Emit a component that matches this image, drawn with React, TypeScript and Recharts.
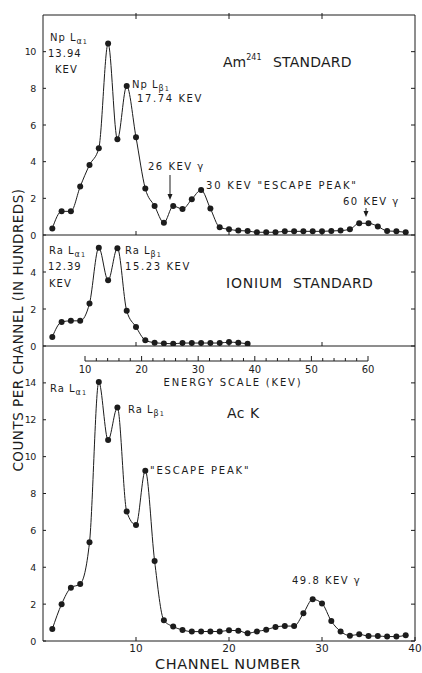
import React from 'react';
import { LineChart, Line, XAxis, YAxis } from 'recharts';

const INK = '#1c1c1c';
const FONT = "'DejaVu Sans', 'Liberation Sans', sans-serif";

// ---------- data ----------
const channels = [1, 2, 3, 4, 5, 6, 7, 8, 9, 10, 11, 12, 13, 14, 15, 16, 17, 18, 19, 20, 21, 22, 23, 24, 25, 26, 27, 28, 29, 30, 31, 32, 33, 34, 35, 36, 37, 38, 39];
const am241Counts = [0.36, 1.29, 1.29, 2.64, 3.82, 4.73, 10.45, 5.22, 8.13, 5.33, 2.53, 1.58, 0.67, 1.58, 1.42, 1.95, 2.45, 1.44, 0.42, 0.31, 0.24, 0.22, 0.15, 0.15, 0.15, 0.2, 0.2, 0.2, 0.2, 0.2, 0.22, 0.24, 0.31, 0.64, 0.64, 0.47, 0.22, 0.2, 0.15];
const ioniumChannels = [1, 2, 3, 4, 5, 6, 7, 8, 9, 10, 11, 12, 13, 14, 15, 16, 17, 18, 19, 20, 21, 22];
const ioniumCounts = [0.49, 1.3, 1.36, 1.36, 2.3, 5.31, 3.55, 5.29, 1.9, 1.03, 0.31, 0.18, 0.14, 0.12, 0.16, 0.16, 0.16, 0.16, 0.16, 0.21, 0.18, 0.12];
const acKCounts = [0.65, 2.0, 2.89, 3.09, 5.35, 14.05, 10.9, 12.66, 7.02, 6.29, 9.24, 4.34, 1.12, 0.78, 0.6, 0.51, 0.51, 0.52, 0.51, 0.58, 0.56, 0.42, 0.52, 0.61, 0.76, 0.81, 0.81, 1.5, 2.26, 2.04, 1.08, 0.52, 0.29, 0.36, 0.27, 0.27, 0.24, 0.24, 0.31];

const channelTicks = [10, 20, 30, 40];
const innerChannelTicks = [10, 20, 30];
const am241Ticks = [0, 2, 4, 6, 8, 10];
const ioniumTicks = [0, 2, 4];
const acKTicks = [0, 2, 4, 6, 8, 10, 12, 14];
const energyTicks = [10, 12, 14, 16, 18, 20, 22, 24, 26, 28, 30, 32, 34, 36, 38, 40, 42, 44, 46, 48, 50, 52, 54, 56, 58, 60];

const am241Data = channels.map((ch, i) => ({ ch, v: am241Counts[i] }));
const ioniumData = ioniumChannels.map((ch, i) => ({ ch, v: ioniumCounts[i] }));
const acKData = channels.map((ch, i) => ({ ch, v: acKCounts[i] }));
const energyData = energyTicks.map((e) => ({ e }));

// ---------- tick renderers ----------
const leftTick = (p: any) => (
  <g>
    <line x1={p.x} x2={p.x + 3} y1={p.y} y2={p.y} stroke={INK} strokeWidth={1} />
    <text
      x={p.x - 7}
      y={p.y + 3.5}
      textAnchor="end"
      fontSize={9.5}
      letterSpacing={-0.4}
      fontFamily={FONT}
      fill={INK}
    >
      {p.payload.value}
    </text>
  </g>
);
const rightTick = (p: any) => (
  <line x1={p.x} x2={p.x - 4} y1={p.y} y2={p.y} stroke={INK} strokeWidth={1} />
);
const innerBottomTick = (p: any) => (
  <line x1={p.x} x2={p.x} y1={p.y} y2={p.y - 4} stroke={INK} strokeWidth={1} />
);
const topTick = (p: any) => (
  <line x1={p.x} x2={p.x} y1={p.y - 2} y2={p.y + 4} stroke={INK} strokeWidth={1} />
);
const channelTick = (p: any) => (
  <g>
    <line x1={p.x} x2={p.x} y1={p.y} y2={p.y - 4} stroke={INK} strokeWidth={1} />
    <text x={p.x} y={p.y + 11} textAnchor="middle" fontSize={10.5} fontFamily={FONT} fill={INK}>
      {p.payload.value}
    </text>
  </g>
);
const energyTick = (p: any) => {
  const major = p.payload.value % 10 === 0;
  return (
    <g>
      <line x1={p.x} x2={p.x} y1={p.y} y2={p.y - (major ? 5 : 3)} stroke={INK} strokeWidth={1} />
      {major && (
        <text x={p.x} y={p.y + 12} textAnchor="middle" fontSize={10} fontFamily={FONT} fill={INK}>
          {p.payload.value}
        </text>
      )}
    </g>
  );
};

const dotStyle = { r: 3, fill: INK, stroke: INK, strokeWidth: 0 };

const Panel = ({
  data,
  top,
  height,
  margin,
  yMax,
  yTicks,
  bottomTick,
  bottomTicks,
  withTop,
}: any) => (
  <div style={{ position: 'absolute', left: 0, top }}>
    <LineChart width={422} height={height} data={data} margin={margin}>
      <XAxis
        xAxisId="b"
        dataKey="ch"
        type="number"
        domain={[0, 40]}
        allowDataOverflow
        ticks={bottomTicks}
        interval={0}
        height={1}
        tickSize={0}
        tickMargin={0}
        tickLine={false}
        axisLine={{ stroke: INK, strokeWidth: 1 }}
        tick={bottomTick}
      />
      {withTop && (
        <XAxis
          xAxisId="t"
          orientation="top"
          dataKey="ch"
          type="number"
          domain={[0, 40]}
          allowDataOverflow
          ticks={innerChannelTicks}
          interval={0}
          height={1}
          tickSize={0}
          tickMargin={0}
          tickLine={false}
          axisLine={{ stroke: INK, strokeWidth: 1 }}
          tick={topTick}
        />
      )}
      <YAxis
        yAxisId="l"
        type="number"
        domain={[0, yMax]}
        allowDataOverflow
        ticks={yTicks}
        interval={0}
        width={43}
        tickSize={0}
        tickMargin={0}
        tickLine={false}
        axisLine={{ stroke: INK, strokeWidth: 1 }}
        tick={leftTick}
      />
      <YAxis
        yAxisId="r"
        orientation="right"
        type="number"
        domain={[0, yMax]}
        allowDataOverflow
        ticks={yTicks}
        interval={0}
        width={1}
        tickSize={0}
        tickMargin={0}
        tickLine={false}
        axisLine={{ stroke: INK, strokeWidth: 1 }}
        tick={rightTick}
      />
      <Line
        xAxisId="b"
        yAxisId="l"
        dataKey="v"
        type="monotone"
        stroke={INK}
        strokeWidth={1}
        dot={dotStyle}
        activeDot={false}
        isAnimationActive={false}
      />
    </LineChart>
  </div>
);

const T = ({ x, y, size = 10, ls = 1, children, anchor = 'start' }: any) => (
  <text x={x} y={y} fontSize={size} fontFamily={FONT} fill={INK} letterSpacing={ls} textAnchor={anchor}>
    {children}
  </text>
);

const Arrow = ({ x, y1, y2 }: any) => (
  <g>
    <line x1={x} x2={x} y1={y1} y2={y2 - 5} stroke={INK} strokeWidth={1} />
    <polygon points={`${x - 2.5},${y2 - 6} ${x + 2.5},${y2 - 6} ${x},${y2}`} fill={INK} />
  </g>
);

const Sub = ({ g }: any) => (
  <>
    <tspan fontSize={8} dy={3}>{g}</tspan>
    <tspan fontSize={6.5} dy={0}>1</tspan>
  </>
);

export default function App() {
  return (
    <div style={{ position: 'absolute', left: 0, top: 0, width: 422, height: 673, background: '#fff', overflow: 'hidden' }}>
      <Panel
        data={am241Data}
        top={0}
        height={245}
        margin={{ top: 14, right: 6, bottom: 9, left: 0 }}
        yMax={12}
        yTicks={am241Ticks}
        bottomTick={innerBottomTick}
        bottomTicks={innerChannelTicks}
        withTop
      />
      <Panel
        data={ioniumData}
        top={225}
        height={131}
        margin={{ top: 10, right: 6, bottom: 9, left: 0 }}
        yMax={6}
        yTicks={ioniumTicks}
        bottomTick={innerBottomTick}
        bottomTicks={innerChannelTicks}
      />
      <Panel
        data={acKData}
        top={336}
        height={337}
        margin={{ top: 10, right: 6, bottom: 31, left: 0 }}
        yMax={16}
        yTicks={acKTicks}
        bottomTick={channelTick}
        bottomTicks={channelTicks}
      />
      <div style={{ position: 'absolute', left: 0, top: 341 }}>
        <LineChart width={422} height={50} data={energyData} margin={{ top: 10, right: 54, bottom: 29, left: 85 }}>
          <XAxis
            dataKey="e"
            type="number"
            domain={[10, 60]}
            ticks={energyTicks}
            interval={0}
            height={1}
            tickSize={0}
            tickMargin={0}
            tickLine={false}
            axisLine={{ stroke: INK, strokeWidth: 1 }}
            tick={energyTick}
          />
          <YAxis hide domain={[0, 1]} />
        </LineChart>
      </div>
      <svg width={422} height={673} style={{ position: 'absolute', left: 0, top: 0, pointerEvents: 'none' }}>
        {/* y label */}
        <text
          transform="translate(23,330) rotate(-90)"
          textAnchor="middle"
          fontSize={13.5}
          fontFamily={FONT}
          fill={INK}
          letterSpacing={0.5}
        >
          COUNTS PER CHANNEL (IN HUNDREDS)
        </text>
        {/* top panel */}
        <T x={50} y={41}>Np L<Sub g="α" /></T>
        <T x={48} y={57}>13.94</T>
        <T x={55} y={73}>KEV</T>
        <T x={132} y={88}>Np L<Sub g="β" /></T>
        <T x={137} y={102} ls={1.6}>17.74 KEV</T>
        <text x={223} y={67} fontSize={14} fontFamily={FONT} fill={INK}>
          Am<tspan fontSize={8} dy={-7}>241</tspan>
        </text>
        <T x={273} y={67} size={14} ls={0.2}>STANDARD</T>
        <T x={148} y={170} ls={1.5}>26 KEV γ</T>
        <Arrow x={170} y1={175} y2={200} />
        <T x={206} y={189} ls={1.8}>30 KEV "ESCAPE PEAK"</T>
        <T x={343} y={205} ls={1.5}>60 KEV γ</T>
        <Arrow x={366} y1={208} y2={217} />
        {/* middle panel */}
        <T x={49} y={254}>Ra L<Sub g="α" /></T>
        <T x={48} y={270}>12.39</T>
        <T x={49} y={287}>KEV</T>
        <T x={125} y={254}>Ra L<Sub g="β" /></T>
        <T x={125} y={270} ls={1.6}>15.23 KEV</T>
        <T x={226} y={288} size={14} ls={0.8}>IONIUM</T>
        <T x={293} y={288} size={14} ls={0.4}>STANDARD</T>
        {/* energy scale */}
        <T x={233} y={386} anchor="middle" ls={1.8}>ENERGY SCALE (KEV)</T>
        {/* bottom panel */}
        <T x={50} y={392}>Ra L<Sub g="α" /></T>
        <T x={128} y={413}>Ra L<Sub g="β" /></T>
        <T x={227} y={418} size={14} ls={0.5}>Ac K</T>
        <T x={150} y={474} ls={1.8}>"ESCAPE PEAK"</T>
        <T x={292} y={584} ls={1.5}>49.8 KEV γ</T>
        <T x={228} y={669} size={14.5} ls={0.6} anchor="middle">CHANNEL NUMBER</T>
      </svg>
    </div>
  );
}
